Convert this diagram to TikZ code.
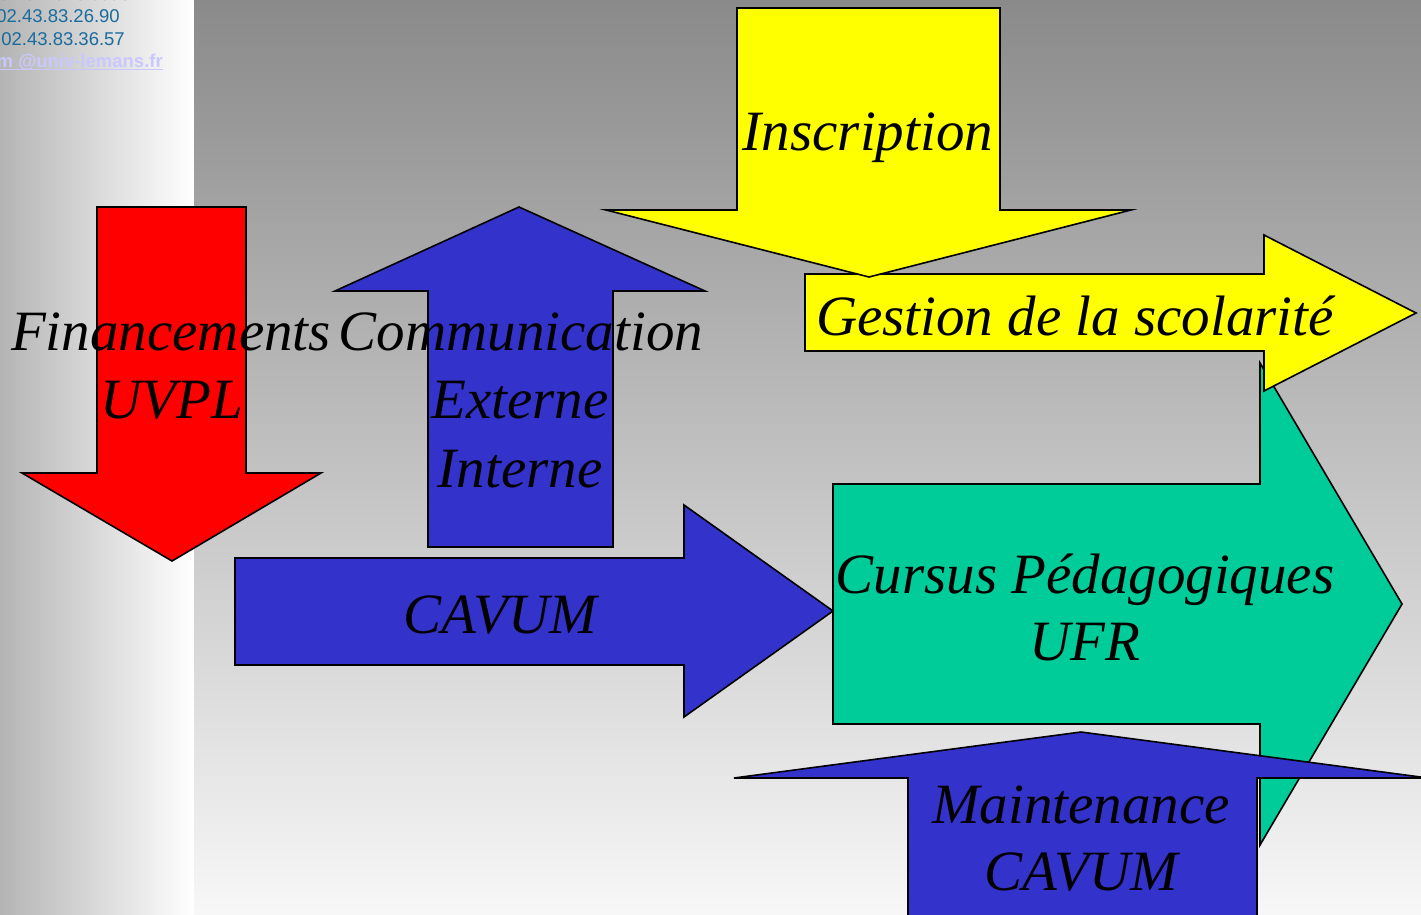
\documentclass[tikz,border=0pt]{standalone}
\usepackage{fontspec}
\setmainfont{Liberation Serif}
\newfontfamily\arialf{Liberation Sans}
\definecolor{bgtop}{HTML}{8A8A8A}
\definecolor{bgleft}{HTML}{B4B4B4}
\definecolor{fillred}{HTML}{FF0000}
\definecolor{fillblue}{HTML}{3333CC}
\definecolor{fillyellow}{HTML}{FFFF00}
\definecolor{fillteal}{HTML}{00CC99}
\definecolor{infoblue}{HTML}{1A6C9C}
\definecolor{maillav}{HTML}{C8C8FF}
\begin{document}
\begin{tikzpicture}[x=1pt,y=-1pt,
  arrowshape/.style={draw=black, line width=1.6pt, line join=miter},
  lbl/.style={font=\fontsize{57}{68}\selectfont\itshape, inner sep=0pt, anchor=base, text=black},
  info/.style={font=\arialf\fontsize{18.5}{22}\selectfont, inner sep=0pt, anchor=base east, text=infoblue},
]
\useasboundingbox (0,0) rectangle (1421,915);
\clip (0,0) rectangle (1421,915);
% backgrounds
\shade[left color=bgleft, right color=white] (0,0) rectangle (194,915);
\shade[top color=bgtop, bottom color=white!97!black] (194,0) rectangle (1421,915);
% contact info
\node[info] (addr) at (140,1) {72085 Le Mans cedex};
\node[info] (tel) at (120,23) {02.43.83.26.90};
\node[info] (fax) at (125,46) {02.43.83.36.57};
\node[info, text=maillav, font=\arialf\bfseries\fontsize{18.5}{22}\selectfont] (mail) at (163,68) {\underbar{m @univ-lemans.fr}};
% red arrow (Financements)
\path[arrowshape, fill=fillred] (97,207) -- (246,207) -- (246,473) -- (321,473) -- (172,561) -- (22,473) -- (97,473) -- cycle;
% blue up arrow (Communication)
\path[arrowshape, fill=fillblue] (519,207) -- (705,291) -- (613,291) -- (613,547) -- (428,547) -- (428,291) -- (335,291) -- cycle;
% teal arrow (Cursus)
\path[arrowshape, fill=fillteal] (833,484) -- (1260,484) -- (1260,363) -- (1402,604) -- (1260,845) -- (1260,724) -- (833,724) -- cycle;
% yellow right arrow (Gestion)
\path[arrowshape, fill=fillyellow] (805,274) -- (1264,274) -- (1264,235) -- (1416,313) -- (1264,391) -- (1264,351) -- (805,351) -- cycle;
% yellow down arrow (Inscription)
\path[arrowshape, fill=fillyellow] (737,8) -- (1000,8) -- (1000,210) -- (1131,210) -- (869,277) -- (606,210) -- (737,210) -- cycle;
% blue right arrow (CAVUM)
\path[arrowshape, fill=fillblue] (235,558) -- (684,558) -- (684,505) -- (833,611) -- (684,717) -- (684,665) -- (235,665) -- cycle;
% blue up arrow (Maintenance)
\path[arrowshape, fill=fillblue] (1081,732) -- (1428,778) -- (1257,778) -- (1257,930) -- (908,930) -- (908,778) -- (734,778) -- cycle;
% labels
\node[lbl] (insc) at (868,150) {Inscription};
\node[lbl] (gest) at (1075,335) {Gestion de la scolarité};
\node[lbl] (fin1) at (171,350) {Financements};
\node[lbl] (fin2) at (172,418) {UVPL};
\node[lbl] (com1) at (521,350) {Communication};
\node[lbl] (com2) at (520,418) {Externe};
\node[lbl] (com3) at (520,487) {Interne};
\node[lbl] (cav) at (500,633) {CAVUM};
\node[lbl] (cur1) at (1085,593) {Cursus Pédagogiques};
\node[lbl] (cur2) at (1085,660) {UFR};
\node[lbl] (mai1) at (1081,823) {Maintenance};
\node[lbl] (mai2) at (1081,890) {CAVUM};
\end{tikzpicture}
\end{document}
